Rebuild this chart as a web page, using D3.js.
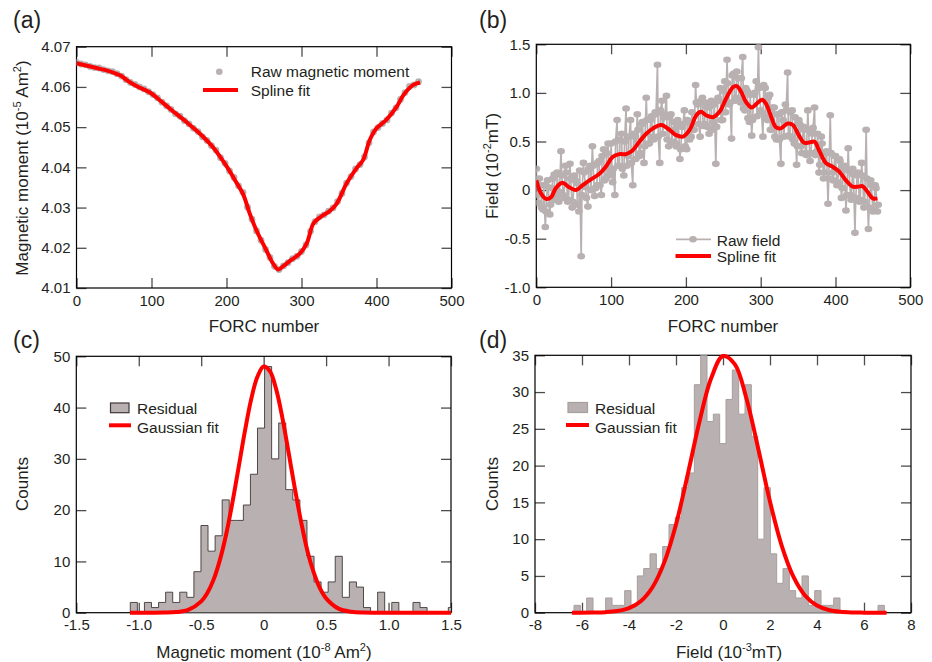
<!DOCTYPE html>
<html>
<head>
<meta charset="utf-8">
<script src="https://cdn.jsdelivr.net/npm/d3@7"></script>
<style>
body { margin: 0; background: #fff; }
svg text { font-family: "Liberation Sans", Arial, Helvetica, sans-serif; fill: #231f20; }
</style>
</head>
<body>
<div id="chart"></div>
<script>
// ---- panel (a): magnetic moment vs FORC number ----
var rawMomentStep = 6;
var rawMoment = [
    4.0661, 4.0657, 4.0655, 4.0651, 4.0648, 4.0647, 4.0643, 4.0640, 4.0638, 4.0633,
    4.0627, 4.0618, 4.0611, 4.0606, 4.0600, 4.0595, 4.0588, 4.0581, 4.0573, 4.0562,
    4.0553, 4.0544, 4.0533, 4.0527, 4.0516, 4.0508, 4.0497, 4.0489, 4.0476, 4.0467,
    4.0454, 4.0443, 4.0424, 4.0410, 4.0391, 4.0375, 4.0354, 4.0338, 4.0301, 4.0271,
    4.0242, 4.0219, 4.0196, 4.0176, 4.0154, 4.0146, 4.0155, 4.0163, 4.0173, 4.0179,
    4.0191, 4.0207, 4.0241, 4.0265, 4.0277, 4.0282, 4.0291, 4.0299, 4.0315, 4.0335,
    4.0361, 4.0377, 4.0396, 4.0407, 4.0426, 4.0461, 4.0488, 4.0499, 4.0509, 4.0518,
    4.0535, 4.0548, 4.0569, 4.0586, 4.0601, 4.0605, 4.0613
];
var splineAForc = [0, 20, 31, 40, 54, 60, 67, 80, 98, 111, 125, 147, 165, 182, 200, 213, 222, 231, 240, 253,
    262, 269, 276, 285, 298, 307, 316, 325, 338, 347, 360, 373, 382, 391, 400, 413, 427, 436, 449, 458];
var splineAVal = [4.0659, 4.0650, 4.0645, 4.0641, 4.0632, 4.0627, 4.0617, 4.0602, 4.0586, 4.0567,
    4.0545, 4.0512, 4.0483, 4.0450, 4.0403, 4.0363, 4.0334, 4.0285, 4.0243, 4.0194,
    4.0161, 4.0146, 4.0155, 4.0168, 4.0186, 4.0211, 4.0261, 4.0276, 4.0292, 4.0310,
    4.0360, 4.0397, 4.0418, 4.0468, 4.0497, 4.0518, 4.0551, 4.0580, 4.0605, 4.0611];
var aYTicks = [4.01, 4.02, 4.03, 4.04, 4.05, 4.06, 4.07];
var aYLabels = ["4.01", "4.02", "4.03", "4.04", "4.05", "4.06", "4.07"];
var forcTicks = [0, 100, 200, 300, 400, 500];
var forcLabels = ["0", "100", "200", "300", "400", "500"];

// ---- panel (b): field vs FORC number ----
// rawField: FORC 0, 3, 6, ... ; rawFieldB: FORC 1, 4, 7, ...
var rawFieldStep = 3;
var rawField = [
    0.22, -0.13, 0.05, -0.20, -0.38, 0.10, -0.25, 0.02, 0.16, -0.08,
    -0.12, 0.40, -0.05, 0.25, -0.12, 0.27, -0.18, 0.15, 0.07, -0.22,
    -0.68, 0.28, 0.03, -0.17, 0.25, 0.45, -0.06, 0.05, 0.30, -0.05,
    0.42, 0.12, 0.48, 0.20, 0.08, -0.05, 0.72, 0.25, 0.58, 0.15,
    0.84, 0.35, 0.72, 0.05, 0.55, 0.78, 0.35, 0.68, 0.28, 0.95,
    0.48, 0.72, 0.55, 0.80, 1.29, 0.28, 0.92, 0.75, 0.97, 0.45,
    0.78, 0.62, 0.48, 0.72, 0.32, 0.65, 0.82, 0.42, 0.70, 0.55,
    0.62, 1.08, 0.88, 0.55, 0.95, 0.68, 0.85, 0.58, 0.92, 0.70,
    0.27, 0.95, 1.05, 0.72, 1.12, 1.34, 0.88, 0.53, 1.20, 0.95,
    1.15, 0.90, 1.37, 0.82, 1.02, 0.70, 0.56, 0.98, 1.12, 1.47,
    0.82, 0.55, 1.05, 0.72, 0.98, 0.62, 0.85, 0.52, 0.78, 0.27,
    0.72, 0.88, 1.21, 0.55, 0.82, 0.48, 0.26, 0.72, 0.45, 0.65,
    0.38, 0.82, 0.30, 0.58, 0.85, 0.40, 0.18, 0.55, 0.12, 0.38,
    -0.14, 0.77, 0.18, 0.35, 0.05, 0.32, -0.08, 0.22, -0.21, 0.43,
    -0.05, 0.22, -0.44, 0.15, -0.12, 0.28, -0.18, 0.62, -0.40, 0.10,
    -0.22, 0.05, -0.22
];
var rawFieldB = [
    -0.05, 0.12, -0.18, 0.05, -0.22, 0.03, -0.15, 0.12, -0.10, 0.18,
    -0.02, 0.15, -0.08, 0.18, -0.10, 0.12, -0.12, 0.10, -0.15, 0.20,
    -0.05, 0.18, -0.08, 0.22, 0.00, 0.25, 0.02, 0.28, 0.05, 0.35,
    0.10, 0.38, 0.15, 0.48, 0.22, 0.50, 0.25, 0.52, 0.22, 0.50,
    0.25, 0.55, 0.28, 0.58, 0.32, 0.62, 0.38, 0.70, 0.45, 0.72,
    0.48, 0.76, 0.52, 0.78, 0.55, 0.82, 0.58, 0.78, 0.52, 0.75,
    0.50, 0.70, 0.45, 0.66, 0.42, 0.68, 0.45, 0.72, 0.52, 0.80,
    0.62, 0.90, 0.68, 0.92, 0.66, 0.90, 0.65, 0.86, 0.62, 0.88,
    0.65, 0.92, 0.72, 1.02, 0.80, 1.10, 0.90, 1.18, 0.92, 1.22,
    0.92, 1.15, 0.84, 1.05, 0.74, 0.98, 0.72, 1.00, 0.76, 1.05,
    0.80, 1.08, 0.75, 0.95, 0.62, 0.85, 0.55, 0.78, 0.52, 0.80,
    0.55, 0.82, 0.56, 0.80, 0.52, 0.75, 0.45, 0.68, 0.38, 0.62,
    0.36, 0.62, 0.38, 0.64, 0.36, 0.58, 0.26, 0.48, 0.18, 0.40,
    0.12, 0.38, 0.10, 0.35, 0.08, 0.30, 0.02, 0.25, -0.05, 0.20,
    -0.10, 0.16, -0.08, 0.18, -0.10, 0.15, -0.12, 0.12, -0.18, 0.05,
    -0.20, 0.02, -0.15
];
var splineBForc = [0, 6, 13, 20, 26, 35, 44, 53, 62, 71, 84, 93, 102, 111, 120, 129, 138, 147, 156, 167,
    178, 187, 196, 205, 214, 220, 227, 236, 245, 254, 263, 268, 274, 280, 288, 296, 302, 307, 314, 320,
    327, 336, 343, 352, 358, 365, 372, 378, 387, 396, 405, 414, 423, 430, 436, 443, 450, 456];
var splineBVal = [0.10, -0.03, -0.09, -0.07, 0.02, 0.075, 0.03, 0.0, 0.05, 0.10, 0.165, 0.24, 0.34, 0.37, 0.37, 0.41, 0.50, 0.58, 0.635, 0.67,
    0.62, 0.565, 0.55, 0.62, 0.77, 0.805, 0.77, 0.75, 0.805, 0.945, 1.06, 1.07, 1.01, 0.91, 0.85, 0.90, 0.93, 0.89, 0.755, 0.65,
    0.635, 0.685, 0.67, 0.55, 0.487, 0.49, 0.497, 0.41, 0.28, 0.24, 0.19, 0.10, 0.035, 0.035, 0.04, -0.02, -0.085, -0.085];
var bYTicks = [-1, -0.5, 0, 0.5, 1, 1.5];
var bYLabels = ["-1.0", "-0.5", "0", "0.5", "1.0", "1.5"];

// ---- panel (c): histogram of moment residuals ----
var histCStart = -1.0677, histCWidth = 0.05658;
var histCCounts = [2, 0, 2, 1, 2, 4, 2, 4, 3, 8, 17, 12, 15, 22, 18, 18, 21, 27, 36, 48,
    30, 37, 24, 22, 18, 11, 6, 4, 6, 11, 3, 6, 5, 1, 0, 4, 0, 2, 0, 0, 2, 1, 0, 0, 0, 1];
var gaussCX = [-1.07, -0.9, -0.8, -0.7, -0.6, -0.5, -0.45, -0.4, -0.35, -0.3, -0.25, -0.2, -0.15, -0.1, -0.05, 0,
    0.05, 0.1, 0.15, 0.2, 0.25, 0.3, 0.35, 0.4, 0.45, 0.5, 0.6, 0.7, 0.8, 0.9, 1.1, 1.5];
var gaussCY = [0, 0, 0.02, 0.12, 0.6, 2.2, 3.9, 6.5, 10.3, 15.3, 21.5, 28.4, 35.4, 41.6, 46.0, 48,
    47.1, 43.6, 38.0, 31.2, 24.2, 17.7, 12.1, 7.9, 4.8, 2.8, 0.8, 0.2, 0.03, 0, 0, 0];
var cXTicks = [-1.5, -1, -0.5, 0, 0.5, 1, 1.5];
var cXLabels = ["-1.5", "-1.0", "-0.5", "0", "0.5", "1.0", "1.5"];
var cYTicks = [0, 10, 20, 30, 40, 50];
var cYLabels = ["0", "10", "20", "30", "40", "50"];

// ---- panel (d): histogram of field residuals ----
var histDStart = -6.34, histDWidth = 0.2695;
var histDCounts = [1, 0, 2, 0, 0, 2, 1, 1, 3, 1, 5, 6, 8, 6, 9, 12, 13, 17, 19, 31,
    35, 26, 27, 23, 29, 33, 27, 31, 24, 10, 17, 8, 4, 6, 3, 2, 5, 1, 3, 1,
    1, 2, 0, 0, 0, 0, 0, 0, 1];
var gaussDX = [-6.43, -5.5, -5, -4.5, -4, -3.5, -3, -2.5, -2, -1.5, -1, -0.5, 0, 0.5, 1, 1.5, 2, 2.5, 3, 3.5,
    4, 4.5, 5, 5.5, 6, 6.96];
var gaussDY = [0, 0.02, 0.07, 0.22, 0.62, 1.55, 3.46, 6.84, 12.0, 18.8, 26.0, 31.9, 34.9, 33.8, 29.1, 22.3, 15.1, 9.1, 4.87, 2.31,
    0.98, 0.37, 0.12, 0.03, 0.01, 0];
var dXTicks = [-8, -6, -4, -2, 0, 2, 4, 6, 8];
var dXLabels = ["-8", "-6", "-4", "-2", "0", "2", "4", "6", "8"];
var dYTicks = [0, 5, 10, 15, 20, 25, 30, 35];
var dYLabels = ["0", "5", "10", "15", "20", "25", "30", "35"];

var GRAY = "#b9b1b1", RED = "#ff0000", INK = "#231f20";

var svg = d3.select("#chart").append("svg")
    .attr("width", 932)
    .attr("height", 662);

// Build scales and a clip rectangle for one panel
function makePanel(id, box, xDom, yDom) {
    var x = d3.scaleLinear().domain(xDom).range([box.l, box.r]);
    var y = d3.scaleLinear().domain(yDom).range([box.b, box.t]);
    svg.append("clipPath").attr("id", "clip-" + id)
        .append("rect")
        .attr("x", box.l).attr("y", box.t)
        .attr("width", box.r - box.l).attr("height", box.b - box.t);
    return {x: x, y: y, box: box, clip: "url(#clip-" + id + ")", g: svg.append("g")};
}

// Inward ticks on all four sides, labels on bottom and left, then the frame
function drawAxes(p, xTicks, xLabels, yTicks, yLabels) {
    var b = p.box, len = 10;
    function style(sel) {
        sel.select(".domain").remove();
        sel.selectAll("line").attr("stroke", "#4d4d4d").attr("stroke-width", 1.3);
        sel.selectAll("text").attr("fill", INK)
            .attr("font-family", "'Liberation Sans', Arial, sans-serif")
            .attr("font-size", 15);
    }
    p.g.append("g").attr("transform", "translate(0," + b.b + ")")
        .call(d3.axisBottom(p.x).tickValues(xTicks).tickSizeInner(-len).tickSizeOuter(0)
            .tickPadding(7).tickFormat(function (d, i) { return xLabels[i]; }))
        .call(style);
    p.g.append("g").attr("transform", "translate(0," + b.t + ")")
        .call(d3.axisTop(p.x).tickValues(xTicks).tickSizeInner(-len).tickSizeOuter(0).tickFormat(""))
        .call(style);
    p.g.append("g").attr("transform", "translate(" + b.l + ",0)")
        .call(d3.axisLeft(p.y).tickValues(yTicks).tickSizeInner(-len).tickSizeOuter(0)
            .tickPadding(6).tickFormat(function (d, i) { return yLabels[i]; }))
        .call(style);
    p.g.append("g").attr("transform", "translate(" + b.r + ",0)")
        .call(d3.axisRight(p.y).tickValues(yTicks).tickSizeInner(-len).tickSizeOuter(0).tickFormat(""))
        .call(style);
    p.g.append("rect")
        .attr("x", b.l).attr("y", b.t)
        .attr("width", b.r - b.l).attr("height", b.b - b.t)
        .attr("fill", "none").attr("stroke", "#000").attr("stroke-width", 1.2);
}

// Text with superscript parts, e.g. [["Field (10"], ["-2", true], ["mT)"]]
function richText(parent, parts, x, y, rotate) {
    var t = parent.append("text")
        .attr("text-anchor", "middle")
        .attr("font-size", 17)
        .attr("transform", "translate(" + x + "," + y + ")" + (rotate ? " rotate(-90)" : ""));
    var up = false;
    parts.forEach(function (part) {
        var s = t.append("tspan").text(part[0]);
        if (part[1]) {
            s.attr("font-size", 11).attr("dy", -7);
            up = true;
        } else if (up) {
            s.attr("dy", 7);
            up = false;
        }
    });
    return t;
}

function panelLetter(txt, x, y) {
    svg.append("text").attr("x", x).attr("y", y).attr("font-size", 23).text(txt);
}

function legendText(x, y, txt) {
    svg.append("text").attr("x", x).attr("y", y).attr("font-size", 15.5).text(txt);
}

// Outline path of a histogram as steps
function histPath(p, start, width, counts) {
    var pts = [[p.x(start), p.y(0)]];
    counts.forEach(function (c, i) {
        pts.push([p.x(start + i * width), p.y(c)]);
        pts.push([p.x(start + (i + 1) * width), p.y(c)]);
    });
    pts.push([p.x(start + counts.length * width), p.y(0)]);
    return "M" + pts.map(function (d) { return d[0] + "," + d[1]; }).join("L") + "Z";
}

// ===== (a) =====
var pa = makePanel("a", {l: 76.5, r: 451.5, t: 46.7, b: 288}, [0, 500], [4.01, 4.07]);
drawAxes(pa, forcTicks, forcLabels, aYTicks, aYLabels);
var ga = svg.append("g").attr("clip-path", pa.clip);
ga.selectAll("circle").data(rawMoment).enter().append("circle")
    .attr("cx", function (d, i) { return pa.x(i * rawMomentStep); })
    .attr("cy", function (d) { return pa.y(d); })
    .attr("r", 3.4)
    .attr("fill", GRAY);
ga.append("path")
    .datum(splineAForc.map(function (f, i) { return [f, splineAVal[i]]; }))
    .attr("fill", "none").attr("stroke", RED).attr("stroke-width", 4).attr("stroke-linejoin", "round")
    .attr("d", d3.line().x(function (d) { return pa.x(d[0]); }).y(function (d) { return pa.y(d[1]); })
        .curve(d3.curveCatmullRom));
svg.append("circle").attr("cx", 219.3).attr("cy", 71.7).attr("r", 3.3).attr("fill", GRAY);
svg.append("line").attr("x1", 203).attr("x2", 238).attr("y1", 90).attr("y2", 90)
    .attr("stroke", RED).attr("stroke-width", 4);
legendText(250.7, 76.5, "Raw magnetic moment");
legendText(250.7, 96, "Spline fit");
richText(svg, [["Magnetic moment (10"], ["-5", true], [" Am"], ["2", true], [")"]], 28, 168, true);
richText(svg, [["FORC number"]], 264, 332, false);
panelLetter("(a)", 13, 28);

// ===== (b) =====
var pb = makePanel("b", {l: 536.3, r: 910.3, t: 44.3, b: 287.3}, [0, 500], [-1, 1.5]);
drawAxes(pb, forcTicks, forcLabels, bYTicks, bYLabels);
var fieldPts = [];
rawField.forEach(function (v, i) {
    fieldPts.push([i * rawFieldStep, v]);
    if (i < rawFieldB.length) fieldPts.push([i * rawFieldStep + 1, rawFieldB[i]]);
});
var gb = svg.append("g").attr("clip-path", pb.clip);
gb.append("path")
    .datum(fieldPts)
    .attr("fill", "none").attr("stroke", GRAY).attr("stroke-width", 1.7)
    .attr("d", d3.line().x(function (d) { return pb.x(d[0]); }).y(function (d) { return pb.y(d[1]); }));
gb.selectAll("ellipse").data(fieldPts).enter().append("ellipse")
    .attr("cx", function (d) { return pb.x(d[0]); })
    .attr("cy", function (d) { return pb.y(d[1]); })
    .attr("rx", 3.9).attr("ry", 3.3)
    .attr("fill", GRAY);
gb.append("path")
    .datum(splineBForc.map(function (f, i) { return [f, splineBVal[i]]; }))
    .attr("fill", "none").attr("stroke", RED).attr("stroke-width", 4).attr("stroke-linejoin", "round")
    .attr("d", d3.line().x(function (d) { return pb.x(d[0]); }).y(function (d) { return pb.y(d[1]); })
        .curve(d3.curveCatmullRom));
svg.append("line").attr("x1", 676).attr("x2", 711).attr("y1", 239.3).attr("y2", 239.3)
    .attr("stroke", GRAY).attr("stroke-width", 1.8);
svg.append("ellipse").attr("cx", 693).attr("cy", 239.3).attr("rx", 3.8).attr("ry", 3.2).attr("fill", GRAY);
svg.append("line").attr("x1", 675.5).attr("x2", 711).attr("y1", 256).attr("y2", 256)
    .attr("stroke", RED).attr("stroke-width", 4);
legendText(716.7, 245.5, "Raw field");
legendText(716.7, 262, "Spline fit");
richText(svg, [["Field (10"], ["-2", true], ["mT)"]], 498, 166, true);
richText(svg, [["FORC number"]], 723, 332, false);
panelLetter("(b)", 479, 28);

// ===== (c) =====
var pc = makePanel("c", {l: 76.3, r: 451, t: 356.3, b: 612.7}, [-1.5, 1.5], [0, 50]);
svg.append("g").attr("clip-path", pc.clip).append("path")
    .attr("d", histPath(pc, histCStart, histCWidth, histCCounts))
    .attr("fill", GRAY).attr("stroke", "#3f3838").attr("stroke-width", 0.9);
drawAxes(pc, cXTicks, cXLabels, cYTicks, cYLabels);
svg.append("path")
    .datum(gaussCX.map(function (v, i) { return [v, gaussCY[i]]; }))
    .attr("fill", "none").attr("stroke", RED).attr("stroke-width", 4).attr("stroke-linejoin", "round")
    .attr("d", d3.line().x(function (d) { return pc.x(d[0]); }).y(function (d) { return pc.y(d[1]); })
        .curve(d3.curveCatmullRom));
svg.append("rect").attr("x", 110.5).attr("y", 403).attr("width", 18.5).attr("height", 9.7)
    .attr("fill", GRAY).attr("stroke", "#3f3838").attr("stroke-width", 1.2);
svg.append("line").attr("x1", 109).attr("x2", 131).attr("y1", 425.3).attr("y2", 425.3)
    .attr("stroke", RED).attr("stroke-width", 4);
legendText(137, 414.3, "Residual");
legendText(137, 432.7, "Gaussian fit");
richText(svg, [["Counts"]], 28, 484, true);
richText(svg, [["Magnetic moment (10"], ["-8", true], [" Am"], ["2", true], [")"]], 264, 658, false);
panelLetter("(c)", 13, 348);

// ===== (d) =====
var pd = makePanel("d", {l: 535, r: 911, t: 355.3, b: 612.7}, [-8, 8], [0, 35]);
svg.append("g").attr("clip-path", pd.clip).append("path")
    .attr("d", histPath(pd, histDStart, histDWidth, histDCounts))
    .attr("fill", GRAY).attr("stroke", "#a79e9e").attr("stroke-width", 1);
drawAxes(pd, dXTicks, dXLabels, dYTicks, dYLabels);
svg.append("path")
    .datum(gaussDX.map(function (v, i) { return [v, gaussDY[i]]; }))
    .attr("fill", "none").attr("stroke", RED).attr("stroke-width", 4).attr("stroke-linejoin", "round")
    .attr("d", d3.line().x(function (d) { return pd.x(d[0]); }).y(function (d) { return pd.y(d[1]); })
        .curve(d3.curveCatmullRom));
svg.append("rect").attr("x", 568).attr("y", 402.5).attr("width", 19.5).attr("height", 10)
    .attr("fill", GRAY).attr("stroke", "#a79e9e").attr("stroke-width", 1.2);
svg.append("line").attr("x1", 566).attr("x2", 589).attr("y1", 425).attr("y2", 425)
    .attr("stroke", RED).attr("stroke-width", 4);
legendText(595, 414, "Residual");
legendText(595, 432.5, "Gaussian fit");
richText(svg, [["Counts"]], 498, 484, true);
richText(svg, [["Field (10"], ["-3", true], ["mT)"]], 729, 658, false);
panelLetter("(d)", 479, 348);
</script>
</body>
</html>
